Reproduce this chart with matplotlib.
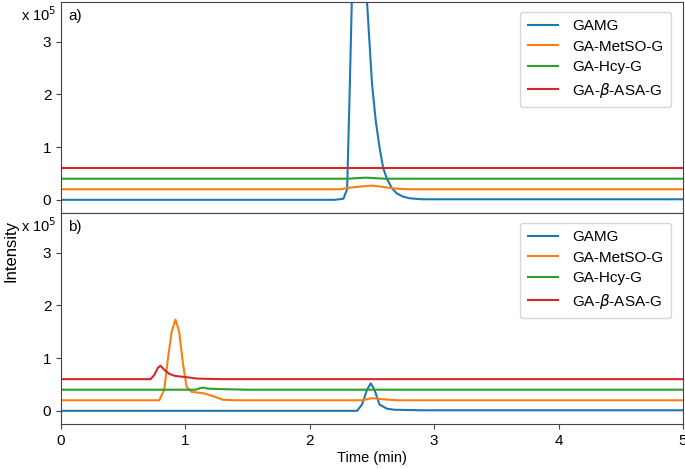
import matplotlib
matplotlib.use("Agg")
import matplotlib.pyplot as plt

plt.rcParams['font.family'] = ['Liberation Sans', 'DejaVu Sans']
plt.rcParams['font.size'] = 11

labels = ['GAMG', 'GA-MetSO-G', 'GA-Hcy-G', r'GA-$\beta$-ASA-G']
colors = ['#1f77b4', '#ff7f0e', '#2ca02c', '#d62728']

# panel a) intensities in units of 1e5, time in min
ta_gamg = [0, 2.20, 2.27, 2.30, 2.32, 2.34, 2.38, 2.42, 2.46, 2.50, 2.53, 2.56, 2.59,
           2.62, 2.66, 2.70, 2.75, 2.80, 2.90, 5.0]
ia_gamg = [0, 0, 0.02, 0.2, 2.0, 4.0, 4.8, 4.6, 3.75, 2.2, 1.5, 1.0, 0.6,
           0.4, 0.22, 0.12, 0.06, 0.03, 0.01, 0.01]
ta_met = [0, 2.25, 2.32, 2.40, 2.50, 2.60, 2.70, 2.80, 5.0]
ia_met = [0.2, 0.2, 0.23, 0.25, 0.27, 0.24, 0.21, 0.2, 0.2]
ta_hcy = [0, 2.30, 2.45, 2.60, 5.0]
ia_hcy = [0.4, 0.4, 0.42, 0.4, 0.4]
ta_asa = [0, 5.0]
ia_asa = [0.6, 0.6]

# panel b)
tb_gamg = [0, 2.38, 2.42, 2.46, 2.49, 2.52, 2.56, 2.62, 2.68, 2.90, 5.0]
ib_gamg = [0, 0, 0.12, 0.4, 0.52, 0.4, 0.12, 0.04, 0.02, 0.01, 0.01]
tb_met = [0, 0.79, 0.83, 0.86, 0.89, 0.92, 0.95, 0.98, 1.01, 1.05, 1.15, 1.22,
          1.30, 1.40, 2.42, 2.50, 2.58, 2.70, 5.0]
ib_met = [0.2, 0.2, 0.4, 1.0, 1.5, 1.73, 1.5, 0.9, 0.45, 0.36, 0.33, 0.28,
          0.21, 0.2, 0.2, 0.24, 0.22, 0.2, 0.2]
tb_hcy = [0, 1.08, 1.12, 1.14, 1.18, 1.30, 1.50, 5.0]
ib_hcy = [0.4, 0.4, 0.43, 0.44, 0.42, 0.41, 0.4, 0.4]
tb_asa = [0, 0.72, 0.75, 0.78, 0.80, 0.83, 0.87, 0.92, 1.00, 1.10, 1.30, 5.0]
ib_asa = [0.6, 0.6, 0.68, 0.82, 0.855, 0.78, 0.70, 0.66, 0.64, 0.61, 0.6, 0.6]

panels = [
    ('a)', [(ta_gamg, ia_gamg), (ta_met, ia_met), (ta_hcy, ia_hcy), (ta_asa, ia_asa)]),
    ('b)', [(tb_gamg, ib_gamg), (tb_met, ib_met), (tb_hcy, ib_hcy), (tb_asa, ib_asa)]),
]

fig = plt.figure(figsize=(6.85, 4.69), dpi=100)
axh = 211 / 469
ax_a = fig.add_axes([61 / 685, 1 - 2 / 469 - axh, 622 / 685, axh])
ax_b = fig.add_axes([61 / 685, 1 - 213 / 469 - axh, 622 / 685, axh], sharex=ax_a)

for ax, (tag, series) in zip([ax_a, ax_b], panels):
    for (t, y), c, lab in zip(series, colors, labels):
        ax.plot(t, y, color=c, lw=1.5, label=lab)
    ax.set_xlim(0, 5)
    ax.set_ylim(-0.25, 3.75)
    ax.set_yticks([0, 1, 2, 3])
    for s in ax.spines.values():
        s.set_color('#444444')
    ax.tick_params(color='#444444', length=3.5, labelsize=11)
    ax.text(0.012, 0.965, tag, transform=ax.transAxes, va='top', ha='left', fontsize=11)
    ax.text(-0.008, 0.985, r'x 10$^5$', transform=ax.transAxes, va='top', ha='right',
            fontsize=10.5)
    ax.legend(loc='upper right', fontsize=11, handlelength=2.0, borderpad=0.5,
              labelspacing=0.42, handletextpad=0.9, bbox_to_anchor=(0.993, 0.99))

ax_a.tick_params(labelbottom=False, bottom=False)
ax_b.set_xticks([0, 1, 2, 3, 4, 5])
ax_b.set_xlabel('Time (min)', fontsize=10.5, labelpad=2)
fig.text(11 / 685, 218 / 469, 'Intensity', rotation=90, va='center', ha='center',
         fontsize=12)

fig.savefig('out.png', dpi=100)
